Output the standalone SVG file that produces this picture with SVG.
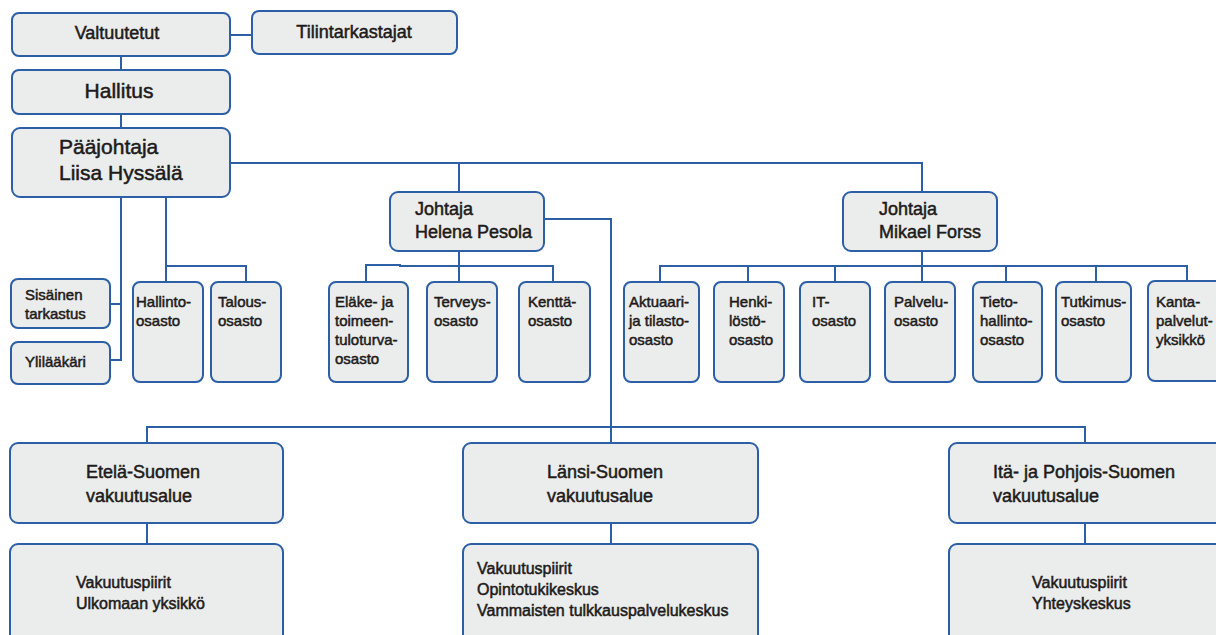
<svg xmlns="http://www.w3.org/2000/svg" width="1216" height="635" viewBox="0 0 1216 635">
  <style>
    .box { fill: #ebecec; stroke: #2c5fa6; stroke-width: 2; }
    .wire { fill: none; stroke: #2c5fa6; stroke-width: 2; }
    text { font-family: "Liberation Sans", Arial, sans-serif; fill: #1d1b1a; stroke: #1d1b1a; stroke-width: 0.5; }
    .xl { font-size: 21px; }
    .l { font-size: 18px; }
    .m { font-size: 16px; }
    .s { font-size: 15px; }
  </style>
  <rect width="1216" height="635" fill="#ffffff"/>

  <g id="connectors" class="wire">
    <path d="M230 35 H252"/>
    <path d="M121 56 V70"/>
    <path d="M121 114 V128"/>
    <path d="M230 163 H922 V192"/>
    <path d="M459 163 V192"/>
    <path d="M121 197 V360 H110"/>
    <path d="M121 304 H110"/>
    <path d="M166 197 V266 H246 V282"/>
    <path d="M166 266 V282"/>
    <path d="M459 251 V282"/>
    <path d="M366 282 V265 H400 V266 H553 V282"/>
    <path d="M544 219 H611 V443"/>
    <path d="M922 251 V282"/>
    <path d="M660 282 V266 H1187 V282"/>
    <path d="M748 266 V282"/>
    <path d="M835 266 V282"/>
    <path d="M1006 266 V282"/>
    <path d="M1096 266 V282"/>
    <path d="M147 443 V427 H1085 V443"/>
    <path d="M147 523 V544"/>
    <path d="M611 523 V544"/>
    <path d="M1085 523 V544"/>
  </g>

  <g id="valtuutetut">
    <rect class="box" x="12" y="13" width="218" height="43" rx="7"/>
    <text class="l" x="117" y="39" text-anchor="middle">Valtuutetut</text>
  </g>
  <g id="tilintarkastajat">
    <rect class="box" x="252" y="11" width="205" height="43" rx="7"/>
    <text class="l" x="354" y="38" text-anchor="middle">Tilintarkastajat</text>
  </g>
  <g id="hallitus">
    <rect class="box" x="12" y="70" width="218" height="44" rx="7"/>
    <text class="xl" x="119" y="98" text-anchor="middle">Hallitus</text>
  </g>
  <g id="paajohtaja">
    <rect class="box" x="12" y="128" width="218" height="69" rx="8"/>
    <text class="xl" x="59" y="154">Pääjohtaja</text>
    <text class="xl" x="59" y="180">Liisa Hyssälä</text>
  </g>

  <g id="sisainen-tarkastus">
    <rect class="box" x="11" y="279" width="99" height="49" rx="7"/>
    <text class="s" x="25" y="300">Sisäinen</text>
    <text class="s" x="25" y="319">tarkastus</text>
  </g>
  <g id="ylilaakari">
    <rect class="box" x="11" y="342" width="99" height="42" rx="7"/>
    <text class="s" x="25" y="367">Ylilääkäri</text>
  </g>
  <g id="hallinto-osasto">
    <rect class="box" x="133" y="282" width="70" height="100" rx="7"/>
    <text class="s" x="136" y="307">Hallinto-</text>
    <text class="s" x="136" y="326">osasto</text>
  </g>
  <g id="talousosasto">
    <rect class="box" x="211" y="282" width="70" height="100" rx="7"/>
    <text class="s" x="218" y="307">Talous-</text>
    <text class="s" x="218" y="326">osasto</text>
  </g>

  <g id="johtaja-pesola">
    <rect class="box" x="390" y="192" width="154" height="59" rx="8"/>
    <text class="l" x="415" y="215">Johtaja</text>
    <text class="l" x="415" y="238">Helena Pesola</text>
  </g>
  <g id="elake-osasto">
    <rect class="box" x="329" y="282" width="79" height="100" rx="7"/>
    <text class="s" x="335" y="307">Eläke- ja</text>
    <text class="s" x="335" y="326">toimeen-</text>
    <text class="s" x="335" y="345">tuloturva-</text>
    <text class="s" x="335" y="364">osasto</text>
  </g>
  <g id="terveysosasto">
    <rect class="box" x="427" y="282" width="70" height="100" rx="7"/>
    <text class="s" x="434" y="307">Terveys-</text>
    <text class="s" x="434" y="326">osasto</text>
  </g>
  <g id="kenttaosasto">
    <rect class="box" x="519" y="282" width="71" height="100" rx="7"/>
    <text class="s" x="528" y="307">Kenttä-</text>
    <text class="s" x="528" y="326">osasto</text>
  </g>

  <g id="johtaja-forss">
    <rect class="box" x="843" y="192" width="154" height="59" rx="8"/>
    <text class="l" x="879" y="215">Johtaja</text>
    <text class="l" x="879" y="238">Mikael Forss</text>
  </g>
  <g id="aktuaari-osasto">
    <rect class="box" x="624" y="282" width="75" height="100" rx="7"/>
    <text class="s" x="629" y="307">Aktuaari-</text>
    <text class="s" x="629" y="326">ja tilasto-</text>
    <text class="s" x="629" y="345">osasto</text>
  </g>
  <g id="henkilosto-osasto">
    <rect class="box" x="714" y="282" width="70" height="100" rx="7"/>
    <text class="s" x="729" y="307">Henki-</text>
    <text class="s" x="729" y="326">löstö-</text>
    <text class="s" x="729" y="345">osasto</text>
  </g>
  <g id="it-osasto">
    <rect class="box" x="800" y="282" width="70" height="100" rx="7"/>
    <text class="s" x="812" y="307">IT-</text>
    <text class="s" x="812" y="326">osasto</text>
  </g>
  <g id="palveluosasto">
    <rect class="box" x="885" y="282" width="70" height="100" rx="7"/>
    <text class="s" x="894" y="307">Palvelu-</text>
    <text class="s" x="894" y="326">osasto</text>
  </g>
  <g id="tietohallinto-osasto">
    <rect class="box" x="973" y="282" width="69" height="100" rx="7"/>
    <text class="s" x="980" y="307">Tieto-</text>
    <text class="s" x="980" y="326">hallinto-</text>
    <text class="s" x="980" y="345">osasto</text>
  </g>
  <g id="tutkimusosasto">
    <rect class="box" x="1056" y="282" width="75" height="100" rx="7"/>
    <text class="s" x="1061" y="307">Tutkimus-</text>
    <text class="s" x="1061" y="326">osasto</text>
  </g>
  <g id="kantapalveluyksikko">
    <rect class="box" x="1148" y="281" width="75" height="100" rx="7"/>
    <text class="s" x="1156" y="307">Kanta-</text>
    <text class="s" x="1156" y="326">palvelut-</text>
    <text class="s" x="1156" y="345">yksikkö</text>
  </g>

  <g id="etela-suomen-vakuutusalue">
    <rect class="box" x="10" y="443" width="273" height="80" rx="8"/>
    <text class="l" x="86" y="478">Etelä-Suomen</text>
    <text class="l" x="86" y="502">vakuutusalue</text>
  </g>
  <g id="etela-suomen-yksikot">
    <rect class="box" x="10" y="544" width="273" height="100" rx="8"/>
    <text class="m" x="76" y="588">Vakuutuspiirit</text>
    <text class="m" x="76" y="609">Ulkomaan yksikkö</text>
  </g>
  <g id="lansi-suomen-vakuutusalue">
    <rect class="box" x="463" y="443" width="295" height="80" rx="8"/>
    <text class="l" x="547" y="478">Länsi-Suomen</text>
    <text class="l" x="547" y="502">vakuutusalue</text>
  </g>
  <g id="lansi-suomen-yksikot">
    <rect class="box" x="463" y="544" width="295" height="100" rx="8"/>
    <text class="m" x="477" y="574">Vakuutuspiirit</text>
    <text class="m" x="477" y="595">Opintotukikeskus</text>
    <text class="m" x="477" y="616">Vammaisten tulkkauspalvelukeskus</text>
  </g>
  <g id="ita-ja-pohjois-suomen-vakuutusalue">
    <rect class="box" x="949" y="443" width="280" height="80" rx="8"/>
    <text class="l" x="993" y="478">Itä- ja Pohjois-Suomen</text>
    <text class="l" x="993" y="502">vakuutusalue</text>
  </g>
  <g id="ita-ja-pohjois-suomen-yksikot">
    <rect class="box" x="949" y="544" width="280" height="100" rx="8"/>
    <text class="m" x="1032" y="588">Vakuutuspiirit</text>
    <text class="m" x="1032" y="609">Yhteyskeskus</text>
  </g>
</svg>
